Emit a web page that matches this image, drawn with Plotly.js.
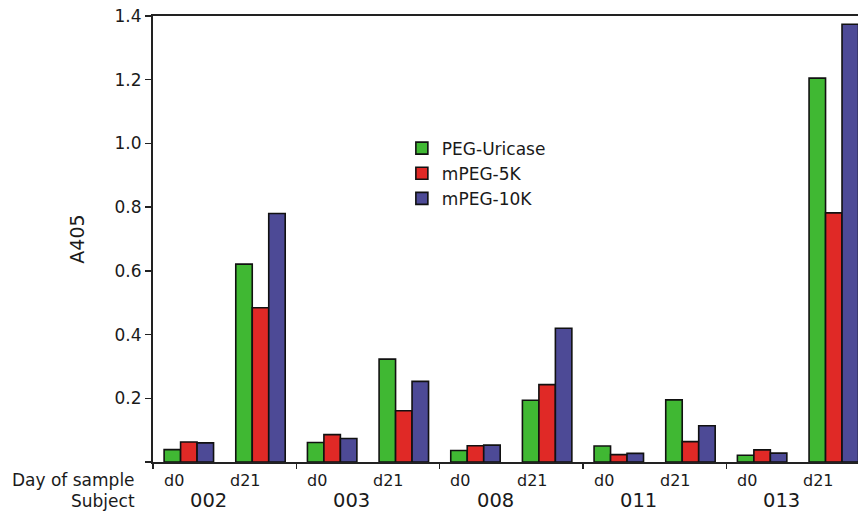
<!DOCTYPE html>
<html>
<head>
<meta charset="utf-8">
<script src="https://cdn.plot.ly/plotly-3.0.1.min.js"></script>
<style>html,body{margin:0;padding:0;background:#fff;}#chart{width:860px;height:512px;}</style>
</head>
<body>
<div id="chart"></div>
<script>
var subjects = ['002', '003', '008', '011', '013'];
var days = ['d0', 'd21'];
var seriesNames = ['PEG-Uricase', 'mPEG-5K', 'mPEG-10K'];
// values ordered: subject 002 d0, d21, 003 d0, d21, ...
var pegUricase = [0.039, 0.621, 0.061, 0.323, 0.036, 0.194, 0.050, 0.195, 0.021, 1.205];
var mpeg5k     = [0.063, 0.484, 0.086, 0.161, 0.051, 0.243, 0.023, 0.064, 0.038, 0.782];
var mpeg10k    = [0.060, 0.780, 0.074, 0.253, 0.053, 0.420, 0.027, 0.114, 0.028, 1.374];
var yTicks = [0, 0.2, 0.4, 0.6, 0.8, 1.0, 1.2, 1.4];

var colors = ['#40b833', '#e02926', '#4d4a96'];
var values = [pegUricase, mpeg5k, mpeg10k];
var FONT = 'DejaVu Sans, Verdana, sans-serif';
var TXT = '#1a1a1a';

var xIdx = [];
subjects.forEach(function (s, i) { days.forEach(function (d, j) { xIdx.push(i * days.length + j); }); });

var traces = values.map(function (v, k) {
  return {
    type: 'bar', name: seriesNames[k], x: xIdx, y: v, legendgroup: 'g' + k,
    marker: { color: colors[k], line: { color: '#111', width: 1.6 } },
    hoverinfo: 'name+y'
  };
});

var boundaryTicks = [-0.5];
for (var i = 1; i < subjects.length; i++) boundaryTicks.push(i * days.length - 0.5);

var annotations = [];
subjects.forEach(function (s, i) {
  days.forEach(function (d, j) {
    annotations.push({ xref: 'x', yref: 'paper', x: i * days.length + j, y: 0, text: d,
      showarrow: false, xanchor: 'center', yanchor: 'middle', yshift: -18, xshift: -15,
      font: { family: FONT, size: 16, color: TXT } });
  });
  annotations.push({ xref: 'x', yref: 'paper', x: i * days.length + (days.length - 1) / 2, y: 0, text: s,
    showarrow: false, xanchor: 'center', yanchor: 'middle', yshift: -38, xshift: -16,
    font: { family: FONT, size: 19.5, color: TXT } });
});
annotations.push({ xref: 'paper', yref: 'paper', x: 0, y: 0, xshift: -16, yshift: -18, text: 'Day of sample',
  showarrow: false, xanchor: 'right', yanchor: 'middle', font: { family: FONT, size: 17, color: TXT } });
annotations.push({ xref: 'paper', yref: 'paper', x: 0, y: 0, xshift: -16, yshift: -39, text: 'Subject',
  showarrow: false, xanchor: 'right', yanchor: 'middle', font: { family: FONT, size: 17, color: TXT } });

var layout = {
  width: 860, height: 512,
  margin: { l: 153, r: 2, t: 16, b: 50, pad: 0 },
  paper_bgcolor: '#fff', plot_bgcolor: '#fff',
  barmode: 'group', bargap: 0.31, bargroupgap: 0,
  showlegend: true,
  legend: { x: 0.353, y: 0.743, xanchor: 'left', yanchor: 'top', bgcolor: 'rgba(0,0,0,0)',
    font: { family: FONT, size: 17, color: TXT }, tracegroupgap: 1.5, traceorder: 'normal' },
  font: { family: FONT, color: TXT },
  xaxis: {
    range: [-0.5, 9.338], showgrid: false, zeroline: false,
    showline: true, linecolor: '#222', linewidth: 2, mirror: true,
    tickmode: 'array', tickvals: boundaryTicks, ticktext: boundaryTicks.map(function () { return ''; }),
    ticks: 'outside', ticklen: 5, tickwidth: 1.5, tickcolor: '#222', showticklabels: false
  },
  yaxis: {
    range: [0, 1.4], showgrid: false, zeroline: false,
    showline: true, linecolor: '#222', linewidth: 2,
    tickmode: 'array', tickvals: yTicks,
    ticktext: yTicks.map(function (t) { return t === 0 ? '' : t.toFixed(1); }),
    ticks: 'outside', ticklen: 6, tickwidth: 1.5, tickcolor: '#222',
    tickfont: { family: FONT, size: 17, color: TXT },
    title: { text: 'A405', font: { family: FONT, size: 19, color: TXT }, standoff: 25 }
  },
  annotations: annotations
};

Plotly.newPlot('chart', traces, layout, { displayModeBar: false, staticPlot: true });
</script>
</body>
</html>
